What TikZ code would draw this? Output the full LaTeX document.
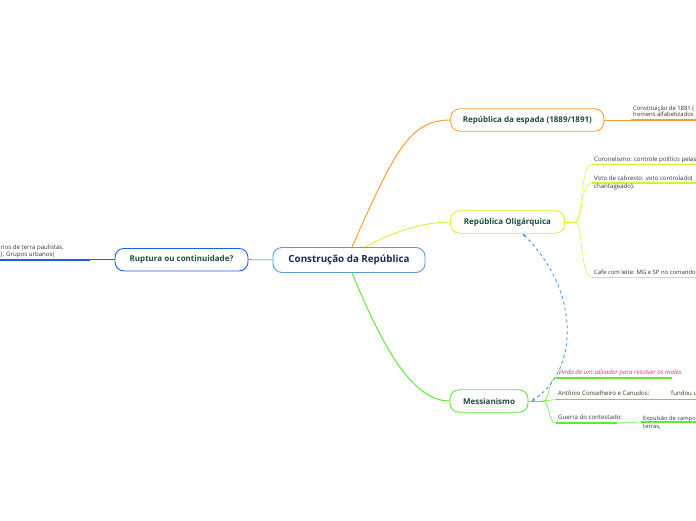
\documentclass[tikz,border=0pt]{standalone}
\usepackage{fontspec}
\setmainfont{Open Sans}
\usetikzlibrary{positioning,arrows.meta}

\definecolor{rootblue}{HTML}{5B9BD5}
\definecolor{rootnavy}{HTML}{1B2A4E}
\definecolor{ruptblue}{HTML}{1F5FE6}
\definecolor{espadaorange}{HTML}{F7A030}
\definecolor{oligolime}{HTML}{D6F032}
\definecolor{messgreen}{HTML}{5EE83A}
\definecolor{dashblue}{HTML}{3A8EE8}
\definecolor{topictext}{HTML}{1D4D3D}
\definecolor{leaftext}{HTML}{333333}
\definecolor{salvpink}{HTML}{E0306A}

\tikzset{
  topic/.style={draw, rounded corners=9pt, line width=0.9pt, fill=white, minimum height=22.5pt,
    inner xsep=6pt, text=topictext, font=\bfseries\fontsize{8}{9}\selectfont},
  leaf/.style={anchor=base west, inner sep=0pt, align=left, text=leaftext,
    font=\fontsize{6.1}{8}\selectfont},
  bar/.style={line width=1.6pt},
  twig/.style={line width=0.5pt}
}

\begin{document}
\begin{tikzpicture}[x=1pt,y=-1pt]
\useasboundingbox (0,0) rectangle (696,520);

%topics
\node[topic, draw=rootblue, text=rootnavy, minimum width=152pt, minimum height=25pt,
  font=\bfseries\fontsize{9.8}{11}\selectfont] (root) at (349,260) {Construção da República};
\node[topic, draw=ruptblue, minimum width=133pt] (ruptura) at (181.5,259.7) {Ruptura ou continuidade?};
\node[topic, draw=espadaorange, minimum width=153pt] (espada) at (527.3,120) {República da espada (1889/1891)};
\node[topic, draw=oligolime, minimum width=114pt] (oligo) at (507.5,222) {República Oligárquica};
\node[topic, draw=messgreen, minimum width=78pt] (mess) at (489,401) {Messianismo};

%main branches
\draw[ruptblue, twig] (root.west) -- (ruptura.east);
\draw[espadaorange, line width=1pt] ([xshift=3pt]root.north) .. controls (395,150) and (410,120) .. (espada.west);
\draw[oligolime, line width=0.9pt] ([xshift=16pt]root.north) .. controls (400,228) and (430,222) .. (oligo.west);
\draw[messgreen, line width=1pt] ([xshift=3pt]root.south) .. controls (380,340) and (410,401) .. (mess.west);

%ruptura
\coordinate (ruptbar) at (90,259.7);
\draw[ruptblue, twig] (ruptura.west) -- (ruptbar);
\draw[ruptblue, bar] (ruptbar) -- ++(-95,0);
\node[leaf, font=\fontsize{6.1}{7}\selectfont] (rupttxt) at (0.5,256.5) {rios de terra paulistas.\\). Grupos urbanos(};

%espada
\coordinate (espadabar) at (631,120);
\draw[espadaorange, twig] (espada.east) -- (espadabar);
\draw[espadaorange, bar] (espadabar) -- ++(70,0);
\node[leaf, font=\fontsize{5.9}{6.5}\selectfont] (constit) at (633,116.8) {Constituição de 1881 (\\homens alfabetizados};

%oligarquica
\coordinate (oligofork) at (575,222);
\coordinate (coronbar) at (592,164.5);
\coordinate (votobar) at (592,183);
\coordinate (cafebar) at (592,277.5);
\draw[oligolime, twig] (oligo.east) -- (oligofork);
\draw[oligolime, twig] (oligofork) .. controls (583,222) and (580,164.5) .. (coronbar);
\draw[oligolime, twig] (oligofork) .. controls (583,222) and (580,183) .. (votobar);
\draw[oligolime, twig] (oligofork) .. controls (583,222) and (580,277.5) .. (cafebar);
\draw[oligolime, bar] (coronbar) -- ++(110,0);
\draw[oligolime, bar] (votobar) -- ++(110,0);
\draw[oligolime, bar] (cafebar) -- ++(110,0);
\node[leaf] (coron) at (594,161) {Coronelismo: controle político pelas};
\node[leaf] (voto) at (594,188.5) {Voto de cabresto: voto controlado(\\chantageado).};
\node[leaf, font=\fontsize{5.9}{8}\selectfont] (cafe) at (594,274) {Cafe com leite: MG e SP no comando};

%messianismo
\coordinate (messfork) at (543,401);
\coordinate (vindabar) at (556,378);
\coordinate (antbar) at (556,399.5);
\coordinate (guerrabar) at (556,423);
\draw[messgreen, twig] (mess.east) -- (messfork);
\draw[messgreen, twig] (messfork) .. controls (550,401) and (548,378) .. (vindabar);
\draw[messgreen, twig] (messfork) -- (antbar);
\draw[messgreen, twig] (messfork) .. controls (550,401) and (548,423) .. (guerrabar);
\draw[messgreen, bar] (vindabar) -- (672,378);
\node[leaf, text=salvpink, font=\itshape\fontsize{6.2}{8}\selectfont] (vinda) at (558,374.5) {Vinda de um salvador para resolver os males};
\draw[messgreen, bar] (antbar) -- (643,399.5) coordinate (antend);
\node[leaf] (ant) at (558,395.5) {Antônio Conselheiro e Canudos:};
\coordinate (fundbar) at (668,399.5);
\draw[messgreen, twig] (antend) -- (fundbar);
\draw[messgreen, bar] (fundbar) -- ++(35,0);
\node[leaf] (fundou) at (671,395.5) {fundou u};
\draw[messgreen, bar] (guerrabar) -- (617,423) coordinate (guerraend);
\node[leaf] (guerra) at (558,419) {Guerra do contestado:};
\coordinate (expbar) at (641,422);
\draw[messgreen, twig] (guerraend) -- (expbar);
\draw[messgreen, bar] (expbar) -- ++(60,0);
\node[leaf, font=\fontsize{5.8}{8.5}\selectfont] (expuls) at (643,428.5) {Expulsão de campo\\terras,};

%link
\draw[dashblue, dashed, line width=0.8pt, {Stealth[length=4pt]}-{Stealth[length=4pt]}]
  ([xshift=15pt]oligo.south) .. controls (580,290) and (580,370) .. ([xshift=3pt]mess.east);
\end{tikzpicture}
\end{document}
